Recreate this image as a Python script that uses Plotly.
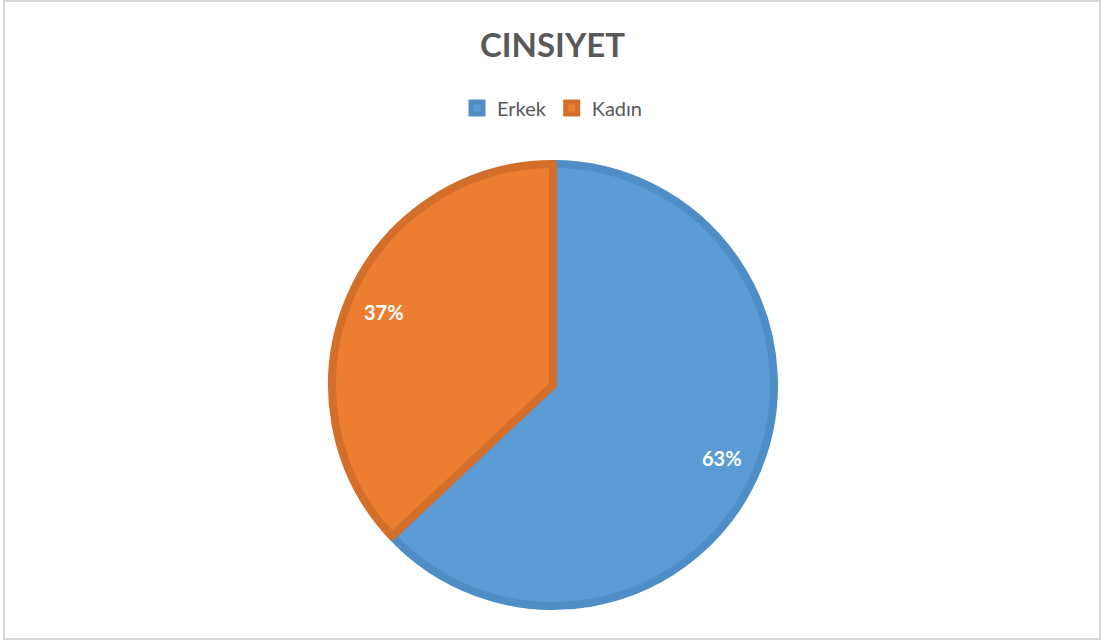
import math
import plotly.graph_objects as go

labels = ["Erkek", "Kadın"]
values = [63, 37]
fill_colors = ["#5B9BD5", "#ED7D31"]
edge_colors = ["#4F8DC6", "#D46F2B"]

W, H = 1105, 642
cx, cy, r = 553, 385, 221

fig = go.Figure(go.Pie(
    labels=labels,
    values=values,
    sort=False,
    direction="clockwise",
    rotation=0,
    marker=dict(colors=fill_colors, line=dict(color=edge_colors, width=8)),
    textinfo="none",
    domain=dict(x=[(cx - r) / W, (cx + r) / W], y=[(H - cy - r) / H, (H - cy + r) / H]),
    hoverinfo="label+percent",
))

# percentage labels placed along each slice bisector (Excel best-fit style)
total = sum(values)
annotations = []
start = 0.0
for v in values:
    frac = v / total
    mid = (start + frac / 2) * 2 * math.pi
    start += frac
    rr = 0.82 * (r + 4)
    px = cx + rr * math.sin(mid)
    py = cy - rr * math.cos(mid)
    annotations.append(dict(
        text=f"<b>{round(frac * 100)}%</b>", x=px / W, y=1 - py / H, xref="paper", yref="paper",
        showarrow=False, xanchor="center", yanchor="middle",
        font=dict(family="Lato", size=20, color="white"),
    ))

fig.update_layout(
    width=W, height=H,
    margin=dict(l=0, r=0, t=0, b=0),
    paper_bgcolor="white",
    title=dict(text="<b>CINSIYET</b>", x=0.5, xanchor="center", y=1 - 45 / H, yanchor="middle",
               font=dict(family="Lato", size=33, color="#595959")),
    legend=dict(orientation="h", x=0.5, xanchor="center", y=1 - 108 / H, yanchor="middle",
                font=dict(family="Lato", size=20, color="#595959"), itemwidth=30, traceorder="normal"),
    annotations=annotations,
    shapes=[dict(type="rect", xref="paper", yref="paper", x0=4 / W, x1=1100 / W, y0=1 - 639 / H, y1=1 - 1 / H,
                 line=dict(color="#D9D9D9", width=2), fillcolor="rgba(0,0,0,0)")],
)

fig.write_html("out.html")
